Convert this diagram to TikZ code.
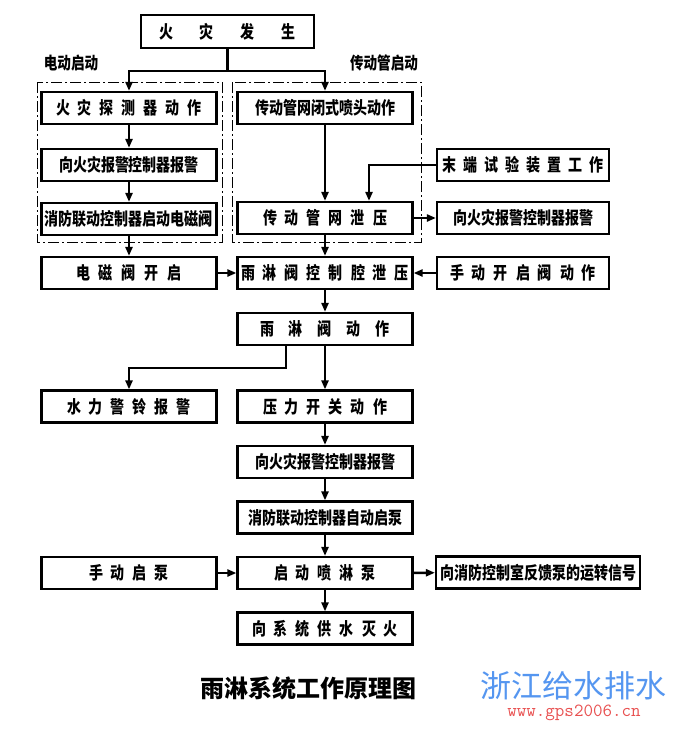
\documentclass[tikz,border=0pt]{standalone}
\usepackage{fontspec}
\usepackage{tikz}
\usetikzlibrary{arrows.meta, positioning}
\newfontfamily\cjk[FakeStretch=0.8]{Noto Sans CJK SC}
\newfontfamily\cjkhei{Noto Sans CJK SC}
\definecolor{wmblue}{RGB}{85,150,240}
\definecolor{wmred}{RGB}{232,80,80}
\newcommand{\jg}[1][8pt]{\hspace{#1}}

\begin{document}
\begin{tikzpicture}[x=1pt, y=-1pt,
    box/.style={draw, line width=2.2pt, minimum width=175pt, minimum height=32pt, inner sep=0pt, font=\cjk\bfseries\fontsize{17.5}{19}\selectfont},
    lab/.style={inner sep=0pt, font=\cjk\bfseries\fontsize{17}{19}\selectfont},
    arr/.style={line width=2.5pt, -{Triangle[length=9pt, width=7pt]}},
    dashframe/.style={line width=1pt, dash pattern=on 11pt off 3pt on 2pt off 3pt}]
        \useasboundingbox (0,0) rectangle (683,734);

        \node[box, minimum width=173pt, minimum height=33pt] (fire) at (227.5,31.5) {火\jg[27pt]灾\jg[27pt]发\jg[27pt]生};
        \node[lab] (ddlab) at (71,63) {电动启动};
        \node[lab] (cdlab) at (384,63) {传动管启动};

        \draw[dashframe] (37,82) rectangle (222,242);
        \draw[dashframe] (232,82) rectangle (421,242);

        \node[box] (d1) at (129,108) {火\jg 灾\jg 探\jg 测\jg 器\jg 动\jg 作};
        \node[box] (d2) at (129,165) {向火灾报警控制器报警};
        \node[box] (d3) at (129,219) {消防联动控制器启动电磁阀};
        \node[box] (c1) at (325,108) {传动管网闭式喷头动作};
        \node[box] (c2) at (325,218) {传\jg 动\jg 管\jg 网\jg 泄\jg 压};
        \node[box, minimum width=172pt] (mo) at (523,165) {末\jg[7pt]端\jg[7pt]试\jg[7pt]验\jg[7pt]装\jg[7pt]置\jg[7pt]工\jg[7pt]作};
        \node[box, minimum width=172pt] (bj) at (523,218) {向火灾报警控制器报警};

        \node[box] (dc) at (129,273) {电\jg[9pt]磁\jg[9pt]阀\jg[9pt]开\jg[9pt]启};
        \node[box] (kq) at (325,273) {雨\jg 淋\jg 阀\jg 控\jg 制\jg 腔\jg 泄\jg 压};
        \node[box, minimum width=172pt] (sd) at (523,273) {手\jg 动\jg 开\jg 启\jg 阀\jg 动\jg 作};
        \node[box] (yld) at (325,329) {雨\jg[15pt]淋\jg[15pt]阀\jg[15pt]动\jg[15pt]作};
        \node[box] (sl) at (129,406.5) {水\jg 力\jg 警\jg 铃\jg 报\jg 警};
        \node[box] (yk) at (325,406.5) {压\jg 力\jg 开\jg 关\jg 动\jg 作};
        \node[box] (bj2) at (325,462) {向火灾报警控制器报警};
        \node[box] (qb) at (325,517.5) {消防联动控制器自动启泵};
        \node[box] (sq) at (129,573) {手\jg 动\jg 启\jg 泵};
        \node[box] (pb) at (325,573) {启\jg 动\jg 喷\jg 淋\jg 泵};
        \node[box, minimum width=204pt] (fankui) at (538,572.5) {向消防控制室反馈泵的运转信号};
        \node[box] (gs) at (325,628.5) {向\jg 系\jg 统\jg 供\jg 水\jg 灭\jg 火};

        \coordinate (fork) at (227.5,71);
        \draw[line width=2.5pt] (fire.south) -- (fork);
        \draw[arr] (fork) -| (d1.north);
        \draw[arr] (fork) -| (c1.north);

        \draw[arr] (d1) -- (d2);
        \draw[arr] (d2) -- (d3);
        \draw[arr] (d3) -- (dc);
        \draw[arr] (c1) -- (c2);
        \draw[arr] (mo.west) -| ([xshift=44pt]c2.north);
        \draw[arr] (c2) -- (bj);
        \draw[arr] (c2) -- (kq);
        \draw[arr] (dc) -- (kq);
        \draw[arr] (sd) -- (kq);
        \draw[arr] (kq) -- (yld);
        \draw[arr] ([xshift=-39pt]yld.south) -- ++(0,22) -| (sl.north);
        \draw[arr] (yld) -- (yk);
        \draw[arr] (yk) -- (bj2);
        \draw[arr] (bj2) -- (qb);
        \draw[arr] (qb) -- (pb);
        \draw[arr] (sq) -- (pb);
        \draw[arr] (pb) -- (fankui);
        \draw[arr] (pb) -- (gs);

        \node[inner sep=0pt, font=\cjkhei\bfseries\fontsize{24}{26}\selectfont] (title) at (308.5,688.5) {雨淋系统工作原理图};
        \node[inner sep=0pt, text=wmblue, font=\cjkhei\fontsize{31}{33}\selectfont] (wm) at (573.5,686) {浙江给水排水};
        \node[inner sep=0pt, text=wmred, font=\ttfamily\fontsize{18.5}{20}\selectfont] (url) at (574,713) {www.gps2006.cn};
    \end{tikzpicture}
\end{document}
